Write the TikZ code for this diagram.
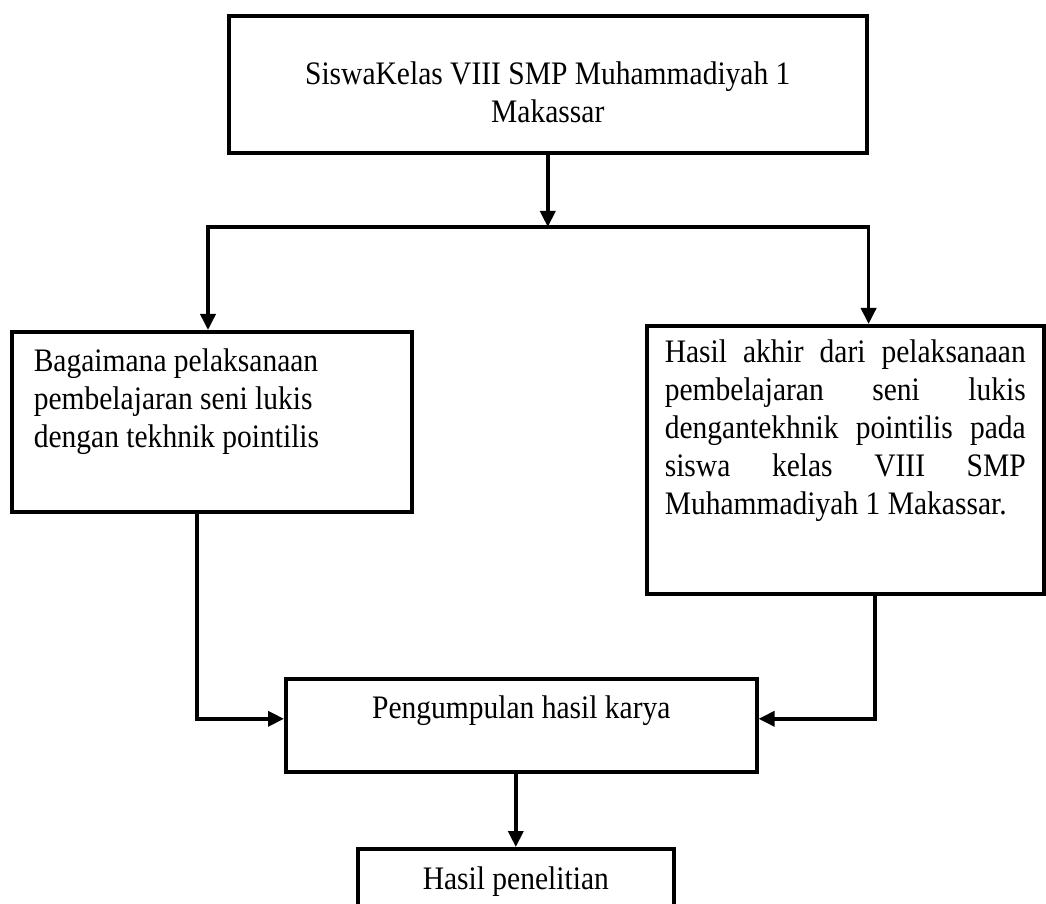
\documentclass[tikz,border=0pt]{standalone}
\usepackage{fontspec}
\setmainfont{Liberation Serif}[FakeStretch=0.9]
\usetikzlibrary{arrows.meta}

\begin{document}
\begin{tikzpicture}[x=0.5pt,y=-0.5pt,
    box/.style={draw,line width=1.8pt,inner sep=0pt,font=\fontsize{16.4}{19}\selectfont},
    link/.style={line width=1.8pt,-{Triangle[length=8pt,width=7.5pt]}}]
    \path[use as bounding box] (0,0) rectangle (1046,904);

    % boxes
    \node[box,anchor=north west,minimum width=319pt,minimum height=68.5pt,align=center]
        (siswa) at (227,14) {\rule{0pt}{19pt}SiswaKelas VIII SMP Muhammadiyah 1\\Makassar};
    \node[box,anchor=north west,inner xsep=11pt]
        (how) at (10,330) {\parbox[c][90pt][t]{178pt}{\vspace{8.5pt}\raggedright
        Bagaimana pelaksanaan\\pembelajaran seni lukis\\dengan tekhnik pointilis}};
    \node[box,anchor=north west,inner xsep=9pt]
        (akhir) at (645,324) {\parbox[c][134pt][t]{180.5pt}{\vspace{7pt}
        \tolerance=10000\hyphenpenalty=10000
        Hasil akhir dari pelaksanaan\linebreak pembelajaran seni lukis\linebreak
        dengantekhnik pointilis pada\linebreak siswa kelas VIII SMP\linebreak
        Muhammadiyah 1 Makassar.}};
    \node[box,anchor=north west,minimum width=235.5pt,minimum height=46.5pt,align=center]
        (kumpul) at (284,677) {Pengumpulan hasil karya\rule[-18pt]{0pt}{0pt}};
    \node[box,anchor=north west,minimum width=158pt,minimum height=32.5pt,align=center]
        (hasil) at (356,847) {Hasil penelitian};

    % links
    \coordinate (split) at (siswa.south |- 0,227);
    \coordinate (splitL) at (208,227);
    \coordinate (splitR) at (siswa.south east |- 0,227);
    \draw[link] (siswa.south) -- (split);
    \draw[line width=1.8pt,line cap=rect] (splitL) -- (splitR);
    \draw[link] (splitL) -- (splitL |- how.north);
    \draw[link] (splitR) -- (splitR |- akhir.north);

    \draw[link] (how.south -| 197,0) |- ([yshift=3.25pt]kumpul.west);
    \draw[link] (akhir.south -| 875,0) |- ([yshift=3.25pt]kumpul.east);
    \draw[link] (hasil.north |- kumpul.south) -- (hasil.north);
\end{tikzpicture}
\end{document}
